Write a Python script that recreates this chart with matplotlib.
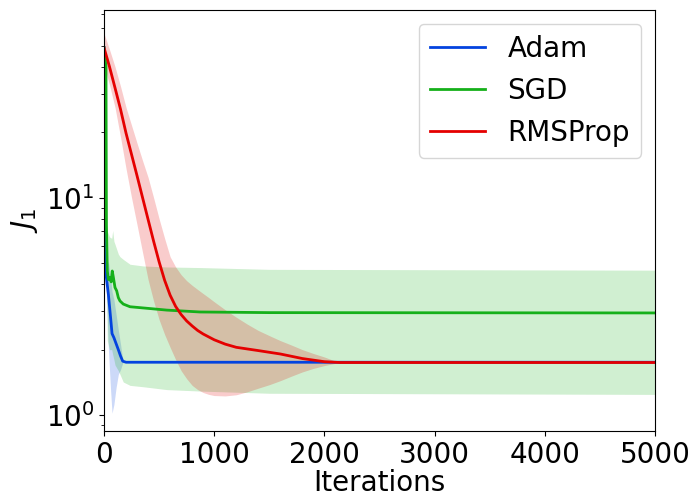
import matplotlib
matplotlib.use('Agg')
import matplotlib.pyplot as plt

# values (log-scale J_1 vs iterations)
ADAM_IT = [0, 18, 40, 60, 73, 90, 110, 130, 150, 170, 200, 5000]
ADAM_MEAN = [49, 4.45, 3.58, 2.8, 2.37, 2.27, 2.13, 2.0, 1.87, 1.77, 1.75, 1.75]
ADAM_LO = [49, 4.2, 2.0, 1.3, 1.02, 1.12, 1.34, 1.54, 1.62, 1.74, 1.75, 1.75]
ADAM_HI = [49, 4.7, 5.1, 4.3, 3.7, 3.4, 2.9, 2.46, 2.12, 1.80, 1.75, 1.75]

SGD_IT = [0, 18, 22, 30, 40, 54, 65, 75, 85, 100, 115, 130, 145, 175, 236, 417, 569, 871, 1500, 5000]
SGD_MEAN = [49, 40, 7.5, 4.6, 4.2, 4.3, 4.1, 4.6, 4.3, 3.86, 3.73, 3.47, 3.35, 3.24, 3.15, 3.09, 3.04, 2.98, 2.96, 2.95]
SGD_BAND_IT = [0, 18, 22, 30, 50, 70, 79, 90, 100, 130, 145, 175, 236, 357, 569, 871, 1500, 5000]
SGD_LO = [49, 38, 4.5, 2.2, 2.0, 2.0, 1.9, 1.8, 1.7, 1.6, 1.54, 1.42, 1.37, 1.35, 1.31, 1.29, 1.26, 1.245]
SGD_HI = [49, 42, 12, 7.0, 6.6, 6.5, 7.06, 6.3, 6.1, 5.5, 5.35, 5.2, 4.94, 4.85, 4.8, 4.77, 4.68, 4.64]

RMS_IT = [0, 50, 100, 150, 200, 250, 300, 350, 400, 450, 500, 550, 600, 650, 700, 750, 800, 850,
          900, 1000, 1100, 1200, 1400, 1600, 1800, 2000, 2141, 5000]
RMS_MEAN = [49, 40, 32, 25.5, 19.8, 15.8, 12.6, 10, 7.94, 6.31, 5.07, 4.17, 3.56, 3.16, 2.9, 2.71, 2.57, 2.45,
            2.36, 2.22, 2.12, 2.05, 1.98, 1.91, 1.82, 1.76, 1.745, 1.745]
RMS_BAND_IT = [0, 50, 100, 150, 200, 250, 300, 350, 400, 450, 500, 550, 600, 650, 700, 750, 800, 850, 900, 950,
               1000, 1100, 1200, 1300, 1400, 1500, 1600, 1700, 1800, 1900, 2000, 2100, 2141, 5000]
RMS_LO = [41, 33, 26, 19, 13.6, 10, 7.5, 5.6, 4.2, 3.35, 2.75, 2.35, 2.05, 1.8, 1.6, 1.47, 1.37, 1.31, 1.27, 1.245,
          1.23, 1.225, 1.24, 1.28, 1.33, 1.38, 1.44, 1.51, 1.58, 1.64, 1.69, 1.73, 1.745, 1.745]
RMS_HI = [57, 48, 40, 32.5, 26, 21.5, 17.8, 14.8, 12.4, 10.0, 8.0, 6.5, 5.35, 4.8, 4.42, 4.15, 3.95, 3.78, 3.62, 3.47,
          3.32, 3.05, 2.82, 2.62, 2.45, 2.32, 2.2, 2.1, 2.0, 1.92, 1.85, 1.77, 1.745, 1.745]

C_ADAM = '#0343df'
C_SGD = '#15b01a'
C_RMS = '#e50000'

fig = plt.figure(figsize=(6.91, 4.97), dpi=100)
ax = fig.add_axes([0.1505, 0.1328, 0.7975, 0.8472])

ax.fill_between(ADAM_IT, ADAM_LO, ADAM_HI, color=C_ADAM, alpha=0.2, linewidth=0)
ax.plot(ADAM_IT, ADAM_MEAN, color=C_ADAM, linewidth=2, label='Adam')
ax.fill_between(SGD_BAND_IT, SGD_LO, SGD_HI, color=C_SGD, alpha=0.2, linewidth=0)
ax.plot(SGD_IT, SGD_MEAN, color=C_SGD, linewidth=2, label='SGD')
ax.fill_between(RMS_BAND_IT, RMS_LO, RMS_HI, color=C_RMS, alpha=0.2, linewidth=0)
ax.plot(RMS_IT, RMS_MEAN, color=C_RMS, linewidth=2, label='RMSProp')

ax.set_yscale('log')
ax.set_xlim(0, 5000)
ax.set_ylim(0.845, 73)
ax.set_xticks([0, 1000, 2000, 3000, 4000, 5000])
ax.tick_params(axis='both', which='major', labelsize=20)
ax.set_xlabel('Iterations', fontsize=20, labelpad=0)
ax.set_ylabel('$J_1$', fontsize=20)
ax.legend(loc='upper right', fontsize=20)

fig.savefig('out.png', dpi=100)
